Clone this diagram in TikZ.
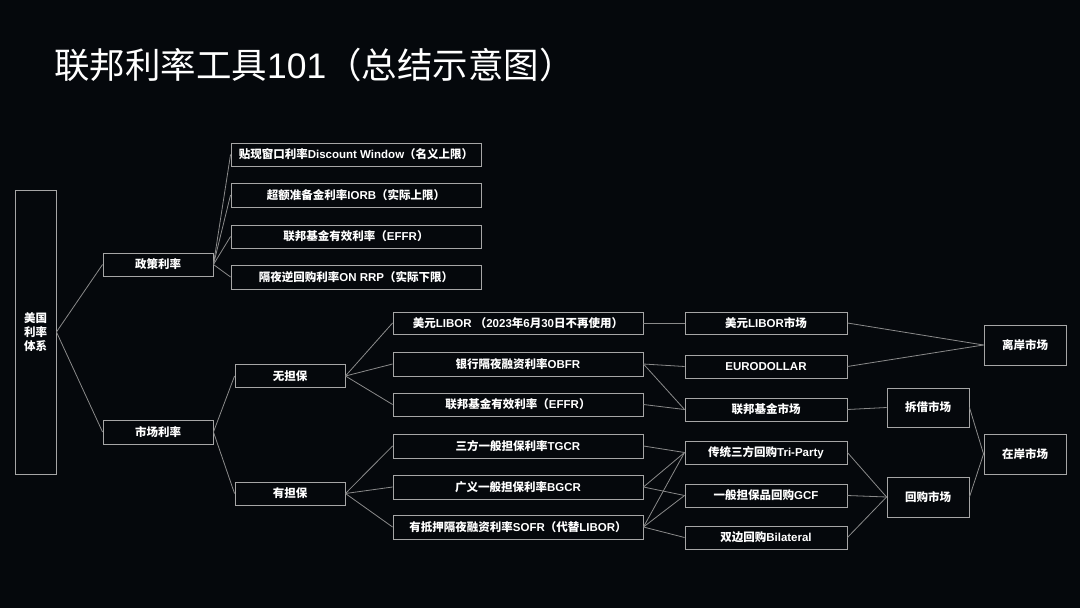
\documentclass[tikz,border=0pt]{standalone}
\usepackage{fontspec}
\setmainfont{Noto Sans CJK SC}
\newfontfamily\latf{Liberation Sans}
\newcommand{\lt}[1]{{\latf #1}}
\definecolor{bg}{HTML}{05080C}
\definecolor{boxc}{HTML}{A6A6A6}
\definecolor{linec}{HTML}{8A8A8A}
\tikzset{
  box/.style={draw=boxc, line width=0.9pt, fill=bg, text=white, font=\bfseries\fontsize{11.5}{14}\selectfont, inner sep=0pt, anchor=center, align=center},
  wh/.style 2 args={minimum width=#1, minimum height=#2},
  conn/.style={draw=linec, line width=0.8pt},
}
\begin{document}
\begin{tikzpicture}[x=1pt,y=-1pt]
\fill[bg] (0,0) rectangle (1080,608);
\useasboundingbox (0,0) rectangle (1080,608);
\node[anchor=west, text=white, font=\fontsize{35.5}{40}\selectfont, inner sep=0pt] (title) at (54,65) {联邦利率工具\lt{101}（总结示意图）};
% level 0
\node[box, wh={41pt}{284pt}] (root) at (35.5,332) {美国\\利率\\体系};
% level 1
\node[box, wh={110pt}{23pt}] (policy) at (158,264.5) {政策利率};
\node[box, wh={110pt}{24pt}] (market) at (158,432) {市场利率};
% policy rates
\node[box, wh={250pt}{23pt}] (p1) at (356,154.5) {贴现窗口利率\lt{Discount Window}（名义上限）};
\node[box, wh={250pt}{24pt}] (p2) at (356,195) {超额准备金利率\lt{IORB}（实际上限）};
\node[box, wh={250pt}{23pt}] (p3) at (356,236.5) {联邦基金有效利率（\lt{EFFR}）};
\node[box, wh={250pt}{24pt}] (p4) at (356,277) {隔夜逆回购利率\lt{ON RRP}（实际下限）};
% level 2 market
\node[box, wh={110pt}{23pt}] (unsec) at (290,376) {无担保};
\node[box, wh={110pt}{23pt}] (sec) at (290,493.5) {有担保};
% mid rates
\node[box, wh={250pt}{22pt}] (m1) at (518,323) {美元\lt{LIBOR }（\lt{2023}年\lt{6}月\lt{30}日不再使用）};
\node[box, wh={250pt}{24pt}] (m2) at (518,364) {银行隔夜融资利率\lt{OBFR}};
\node[box, wh={250pt}{23pt}] (m3) at (518,404.5) {联邦基金有效利率（\lt{EFFR}）};
\node[box, wh={250pt}{24pt}] (m4) at (518,446) {三方一般担保利率\lt{TGCR}};
\node[box, wh={250pt}{24pt}] (m5) at (518,487) {广义一般担保利率\lt{BGCR}};
\node[box, wh={250pt}{24pt}] (m6) at (518,527) {有抵押隔夜融资利率\lt{SOFR}（代替\lt{LIBOR}）};
% markets
\node[box, wh={162pt}{22pt}] (r1) at (766,323) {美元\lt{LIBOR}市场};
\node[box, wh={162pt}{23pt}] (r2) at (766,366.5) {\lt{EURODOLLAR}};
\node[box, wh={162pt}{23pt}] (r3) at (766,409.5) {联邦基金市场};
\node[box, wh={162pt}{23pt}] (r4) at (766,452.5) {传统三方回购\lt{Tri-Party}};
\node[box, wh={162pt}{23pt}] (r5) at (766,495.5) {一般担保品回购\lt{GCF}};
\node[box, wh={162pt}{23pt}] (r6) at (766,537.5) {双边回购\lt{Bilateral}};
% market groups
\node[box, wh={82pt}{39pt}] (s1) at (928,407.5) {拆借市场};
\node[box, wh={82pt}{40pt}] (s2) at (928,497) {回购市场};
\node[box, wh={82pt}{40pt}] (t1) at (1025,345) {离岸市场};
\node[box, wh={82pt}{40pt}] (t2) at (1025,454) {在岸市场};
% connectors
\draw[conn] (root.east) -- (policy.west);
\draw[conn] (root.east) -- (market.west);
\foreach \t in {p1,p2,p3,p4} \draw[conn] (policy.east) -- (\t.west);
\draw[conn] (market.east) -- (unsec.west);
\draw[conn] (market.east) -- (sec.west);
\foreach \t in {m1,m2,m3} \draw[conn] (unsec.east) -- (\t.west);
\foreach \t in {m4,m5,m6} \draw[conn] (sec.east) -- (\t.west);
\draw[conn] (m1.east) -- (r1.west);
\draw[conn] (m2.east) -- (r2.west);
\draw[conn] (m2.east) -- (r3.west);
\draw[conn] (m3.east) -- (r3.west);
\draw[conn] (m4.east) -- (r4.west);
\draw[conn] (m5.east) -- (r4.west);
\draw[conn] (m5.east) -- (r5.west);
\draw[conn] (m6.east) -- (r4.west);
\draw[conn] (m6.east) -- (r5.west);
\draw[conn] (m6.east) -- (r6.west);
\draw[conn] (r1.east) -- (t1.west);
\draw[conn] (r2.east) -- (t1.west);
\draw[conn] (r3.east) -- (s1.west);
\foreach \t in {r4,r5,r6} \draw[conn] (\t.east) -- (s2.west);
\draw[conn] (s1.east) -- (t2.west);
\draw[conn] (s2.east) -- (t2.west);
\end{tikzpicture}
\end{document}
